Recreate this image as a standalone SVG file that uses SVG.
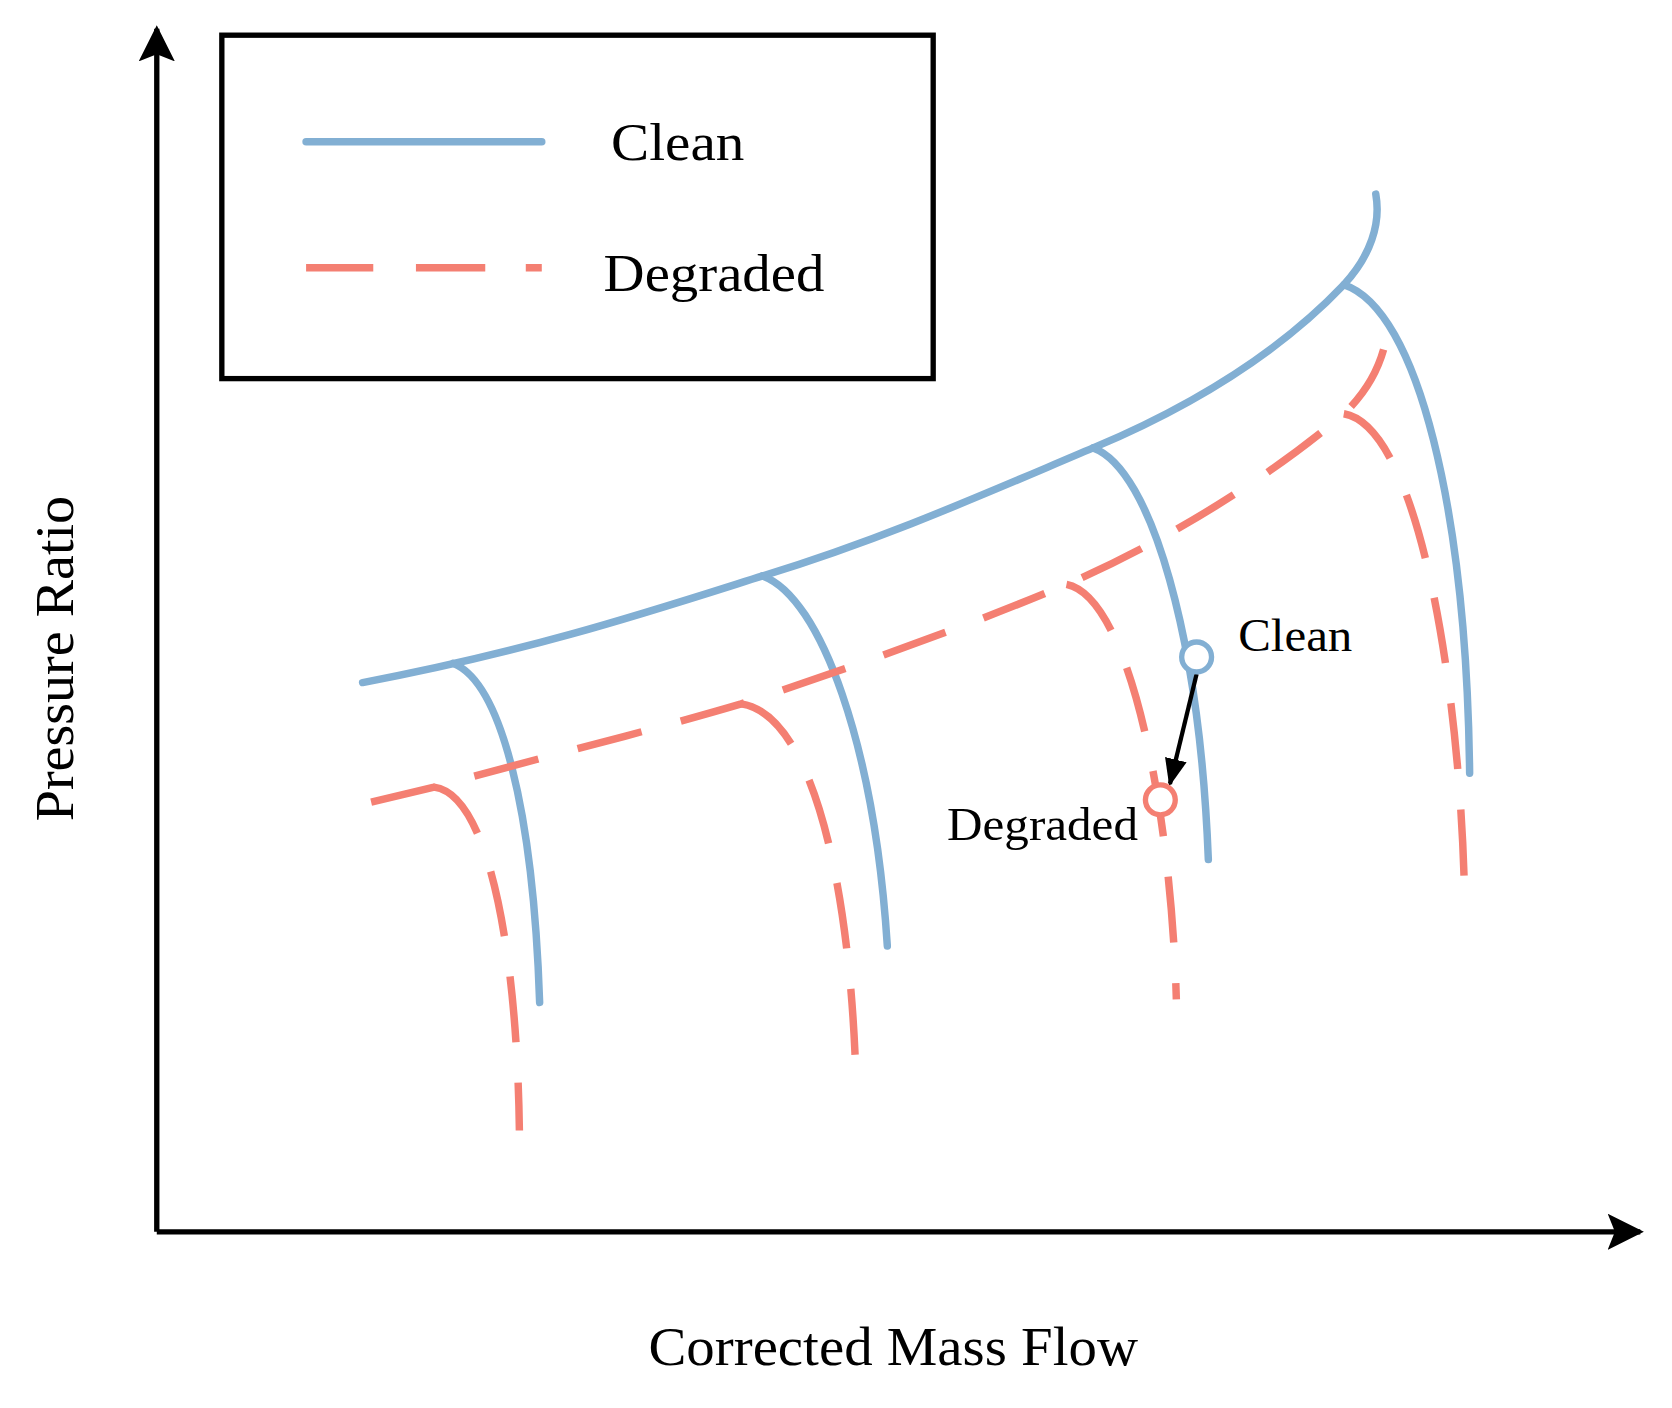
<svg xmlns="http://www.w3.org/2000/svg" width="1672" height="1408" viewBox="0 0 1672 1408">
<style>
.b{fill:none;stroke:#82afd3;stroke-width:7;stroke-linecap:round}
.r{fill:none;stroke:#f47f72;stroke-width:7;stroke-dasharray:62 38;stroke-linecap:butt}
.ax{fill:none;stroke:#000;stroke-width:5}
text{font-family:"Liberation Serif",serif;fill:#000}
</style>
<defs>
<marker id="axh" viewBox="0 0 10 10" refX="9" refY="5" markerWidth="34" markerHeight="34" markerUnits="userSpaceOnUse" orient="auto"><path d="M0,0 L10,5 L0,10 L2,5 Z" fill="#000"/></marker>
<marker id="sh" viewBox="0 0 10 10" refX="9" refY="5" markerWidth="26" markerHeight="26" markerUnits="userSpaceOnUse" orient="auto"><path d="M0,1 L10,5 L0,9 Z" fill="#000"/></marker>
</defs>
<rect width="1672" height="1408" fill="#fff"/>
<g transform="scale(1.0665)">
<g id="axes">
<path class="ax" d="M147,1155 V27" marker-end="url(#axh)"/>
<path class="ax" d="M147,1155 H1538" marker-end="url(#axh)"/>
</g>
<g id="legend">
<rect x="208" y="33" width="667" height="322" fill="none" stroke="#000" stroke-width="5"/>
<path class="b" d="M287,133 H508"/>
<text x="573" y="150" font-size="50" textLength="125" lengthAdjust="spacingAndGlyphs">Clean</text>
<path d="M287,251 H508" fill="none" stroke="#f47f72" stroke-width="7" stroke-dasharray="63 40 65 38 40"/>
<text x="566" y="273" font-size="50" textLength="207" lengthAdjust="spacingAndGlyphs">Degraded</text>
</g>
<g id="connectors">
<path class="b" d="M340,640 C500,610 620,570 715,540 C830,505 930,460 1025,420 C1120,380 1200,330 1260,267 C1285,240 1295,210 1290,182"/>
<path class="b" d="M425,622 C470,640 500,760 506,940"/>
<path class="b" d="M715,540 C770,560 820,700 832,887"/>
<path class="b" d="M1025,420 C1080,440 1125,600 1133,806"/>
<path class="b" d="M1260,267 C1330,290 1375,480 1378,725"/>
<path class="r" d="M348,752 L407,738 C500,712 600,688 695,660 C800,625 900,590 1000,548 C1100,505 1200,440 1260,388 C1290,360 1305,320 1300,292"/>
<path class="r" d="M407,738 C460,745 485,900 487,1060"/>
<path class="r" d="M695,660 C760,670 795,820 802,995"/>
<path class="r" d="M1000,548 C1060,560 1098,760 1103,937"/>
<path class="r" d="M1260,388 C1330,400 1368,640 1373,830"/>
<path d="M1122,632 L1097,735" stroke="#000" stroke-width="4" fill="none" marker-end="url(#sh)"/>
</g>
<g id="points">
<circle cx="1122" cy="616" r="14" fill="#fff" stroke="#82afd3" stroke-width="5"/>
<circle cx="1088" cy="750" r="14" fill="#fff" stroke="#f47f72" stroke-width="5"/>
<text x="1161" y="610" font-size="44" textLength="107" lengthAdjust="spacingAndGlyphs">Clean</text>
<text x="888" y="788" font-size="44" textLength="179" lengthAdjust="spacingAndGlyphs">Degraded</text>
</g>
<g id="labels">
<text x="608" y="1280" font-size="52" textLength="459" lengthAdjust="spacingAndGlyphs">Corrected Mass Flow</text>
<text transform="translate(68,770) rotate(-90)" font-size="52" textLength="305" lengthAdjust="spacingAndGlyphs">Pressure Ratio</text>
</g>
</g>
</svg>
